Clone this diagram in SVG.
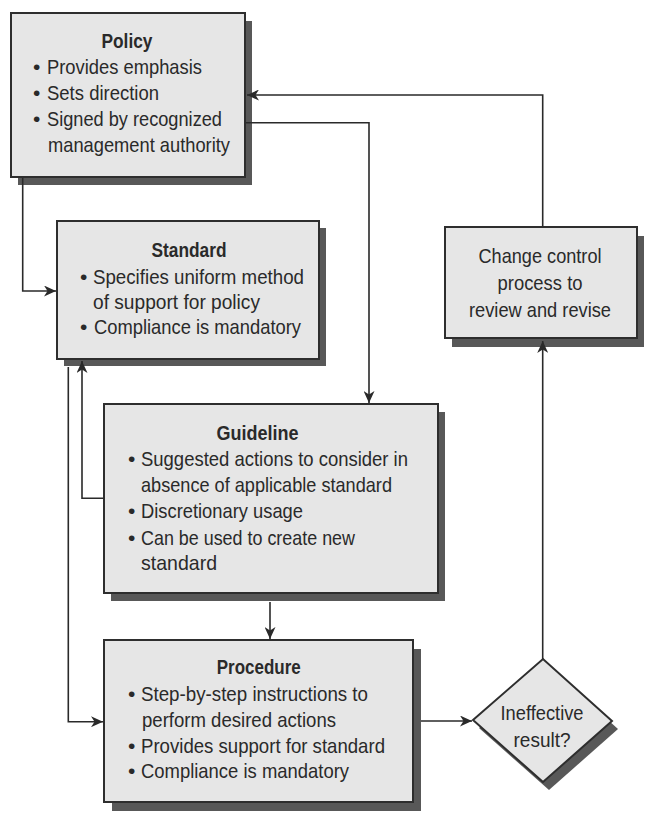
<svg xmlns="http://www.w3.org/2000/svg" width="655" height="826" viewBox="0 0 655 826">
<defs>
<style>
.box{fill:#e6e6e6;stroke:#2e2e2e;stroke-width:2}
.sh{fill:#585858}
.t{font-family:"Liberation Sans",Arial,sans-serif;font-size:21px;fill:#2a2a2a}
.b{font-weight:bold}
.m{text-anchor:middle}
.c{fill:none;stroke:#2a2a2a;stroke-width:1.6}
</style>
<marker id="ah" markerUnits="userSpaceOnUse" markerWidth="13" markerHeight="11" refX="12" refY="5.5" orient="auto">
<path d="M0,0 L12,5.5 L0,11 L3.5,5.5 Z" fill="#2a2a2a"/>
</marker>
</defs>
<rect width="655" height="826" fill="#ffffff"/>

<g id="policy">
<rect class="sh" x="18" y="21" width="234" height="164"/>
<rect class="box" x="11" y="13" width="234" height="164"/>
<text class="t b m" x="127" y="48" textLength="51" lengthAdjust="spacingAndGlyphs">Policy</text>
<text class="t" x="33" y="74">•</text>
<text class="t" x="47" y="74" textLength="155" lengthAdjust="spacingAndGlyphs">Provides emphasis</text>
<text class="t" x="33" y="100">•</text>
<text class="t" x="47" y="100" textLength="112" lengthAdjust="spacingAndGlyphs">Sets direction</text>
<text class="t" x="33" y="126">•</text>
<text class="t" x="47" y="126" textLength="175" lengthAdjust="spacingAndGlyphs">Signed by recognized</text>
<text class="t" x="48" y="152" textLength="182" lengthAdjust="spacingAndGlyphs">management authority</text>
</g>

<g id="standard">
<rect class="sh" x="64" y="228" width="262" height="138"/>
<rect class="box" x="57" y="221" width="262" height="138"/>
<text class="t b m" x="189" y="257" textLength="75" lengthAdjust="spacingAndGlyphs">Standard</text>
<text class="t" x="80" y="284">•</text>
<text class="t" x="93" y="284" textLength="211" lengthAdjust="spacingAndGlyphs">Specifies uniform method</text>
<text class="t" x="93" y="309" textLength="167" lengthAdjust="spacingAndGlyphs">of support for policy</text>
<text class="t" x="80" y="334">•</text>
<text class="t" x="94" y="334" textLength="207" lengthAdjust="spacingAndGlyphs">Compliance is mandatory</text>
</g>

<g id="guideline">
<rect class="sh" x="111" y="412" width="334" height="189"/>
<rect class="box" x="104" y="404" width="334" height="189"/>
<text class="t b m" x="257.5" y="440" textLength="82" lengthAdjust="spacingAndGlyphs">Guideline</text>
<text class="t" x="128" y="466">•</text>
<text class="t" x="141" y="466" textLength="267" lengthAdjust="spacingAndGlyphs">Suggested actions to consider in</text>
<text class="t" x="141" y="492" textLength="251" lengthAdjust="spacingAndGlyphs">absence of applicable standard</text>
<text class="t" x="128" y="518">•</text>
<text class="t" x="141" y="518" textLength="162" lengthAdjust="spacingAndGlyphs">Discretionary usage</text>
<text class="t" x="128" y="545">•</text>
<text class="t" x="141" y="545" textLength="214" lengthAdjust="spacingAndGlyphs">Can be used to create new</text>
<text class="t" x="141" y="570" textLength="76" lengthAdjust="spacingAndGlyphs">standard</text>
</g>

<g id="procedure">
<rect class="sh" x="112" y="649" width="309" height="162"/>
<rect class="box" x="104" y="640" width="309" height="162"/>
<text class="t b m" x="258.7" y="674" textLength="84" lengthAdjust="spacingAndGlyphs">Procedure</text>
<text class="t" x="128" y="701">•</text>
<text class="t" x="141" y="701" textLength="227" lengthAdjust="spacingAndGlyphs">Step-by-step instructions to</text>
<text class="t" x="142" y="727" textLength="194" lengthAdjust="spacingAndGlyphs">perform desired actions</text>
<text class="t" x="128" y="753">•</text>
<text class="t" x="141" y="753" textLength="244" lengthAdjust="spacingAndGlyphs">Provides support for standard</text>
<text class="t" x="128" y="778">•</text>
<text class="t" x="141" y="778" textLength="208" lengthAdjust="spacingAndGlyphs">Compliance is mandatory</text>
</g>

<g id="decision">
<polygon class="sh" points="479,728 549,667 618,729 549,790"/>
<polygon class="box" points="473,720 543,659 612,721 543,782"/>
<text class="t m" x="542" y="720" textLength="83" lengthAdjust="spacingAndGlyphs">Ineffective</text>
<text class="t m" x="542" y="747" textLength="57" lengthAdjust="spacingAndGlyphs">result?</text>
</g>

<g id="change-control">
<rect class="sh" x="452" y="236" width="192" height="111"/>
<rect class="box" x="445" y="227" width="192" height="111"/>
<text class="t m" x="540" y="263" textLength="123" lengthAdjust="spacingAndGlyphs">Change control</text>
<text class="t m" x="540" y="290" textLength="85" lengthAdjust="spacingAndGlyphs">process to</text>
<text class="t m" x="540" y="317" textLength="142" lengthAdjust="spacingAndGlyphs">review and revise</text>
</g>

<g id="connectors">
<path class="c" d="M22.7,178 V291 H56" marker-end="url(#ah)"/>
<path class="c" d="M246,122.7 H369 V403" marker-end="url(#ah)"/>
<path class="c" d="M68.3,367 V721.7 H103" marker-end="url(#ah)"/>
<path class="c" d="M104,498.3 H82 V361" marker-end="url(#ah)"/>
<path class="c" d="M270,602 V639" marker-end="url(#ah)"/>
<path class="c" d="M421,721 H472" marker-end="url(#ah)"/>
<path class="c" d="M542.7,659 V341" marker-end="url(#ah)"/>
<path class="c" d="M542.7,227 V95 H247" marker-end="url(#ah)"/>
</g>
</svg>
